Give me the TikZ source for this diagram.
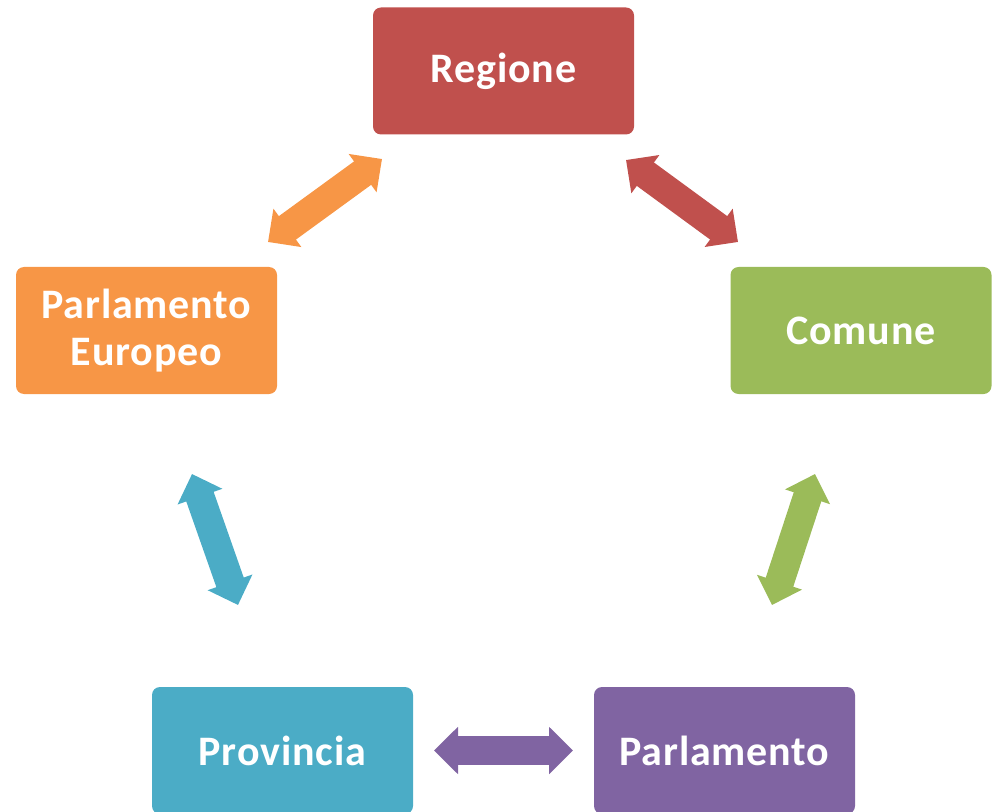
\documentclass[tikz,border=0pt]{standalone}
\usepackage{fontspec}
\setmainfont{Carlito}[LetterSpace=2]
\usetikzlibrary{arrows.meta}

\definecolor{rosso}{HTML}{C0504D}
\definecolor{verde}{HTML}{9BBB59}
\definecolor{viola}{HTML}{8064A2}
\definecolor{azzurro}{HTML}{4BACC6}
\definecolor{arancio}{HTML}{F79646}

\begin{document}
\begin{tikzpicture}[x=0.5pt,y=-0.5pt,
  ente/.style={fill=#1, rounded corners=4pt, minimum width=130.5pt, minimum height=63.5pt,
    inner sep=0pt, align=center, text=white, font=\fontsize{21}{23.5}\selectfont\bfseries},
  freccia/.style={draw=#1, line width=14.5pt,
    {Triangle[length=12pt,width=23pt]}-{Triangle[length=12pt,width=23pt]}}]

\useasboundingbox (0,0) rectangle (994,812);

\node[ente=rosso] (regione) at (503.5,71) {Regione};
\node[ente=verde] (comune) at (861,330.5) {Comune};
\node[ente=viola] (parlamento) at (724.5,750.5) {Parlamento};
\node[ente=azzurro] (provincia) at (282.5,750.5) {Provincia};
\node[ente=arancio] (europeo) at (146.5,330.5) {Parlamento\\Europeo};

\coordinate (r1) at (626,160);
\coordinate (r2) at (738,242);
\coordinate (o1) at (382,159);
\coordinate (o2) at (268,242);
\coordinate (a1) at (192,474);
\coordinate (a2) at (238,605);
\coordinate (v1) at (815,474);
\coordinate (v2) at (772,605);
\coordinate (p1) at (434,750.5);
\coordinate (p2) at (573,750.5);

\draw[freccia=rosso] (r1) -- (r2);
\draw[freccia=arancio] (o1) -- (o2);
\draw[freccia=azzurro] (a1) -- (a2);
\draw[freccia=verde] (v1) -- (v2);
\draw[freccia=viola] (p1) -- (p2);

\end{tikzpicture}
\end{document}
